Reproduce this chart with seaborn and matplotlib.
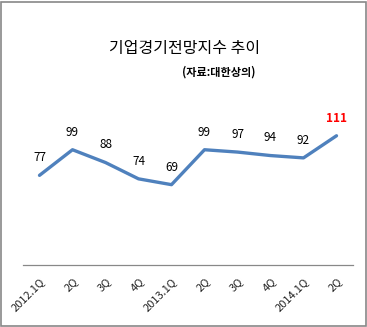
import matplotlib
matplotlib.use("Agg")
import matplotlib.pyplot as plt
from matplotlib.patches import Rectangle
from matplotlib.transforms import ScaledTranslation
import seaborn as sns
import pandas as pd

quarters = ["2012.1Q", "2Q", "3Q", "4Q", "2013.1Q", "2Q", "3Q", "4Q", "2014.1Q", "2Q"]
bsi = [77, 99, 88, 74, 69, 99, 97, 94, 92, 111]

sns.set_style("white")
plt.rcParams["font.family"] = ["Noto Sans CJK KR", "DejaVu Sans"]

df = pd.DataFrame({"pos": range(len(quarters)), "bsi": bsi})

fig = plt.figure(figsize=(3.67, 3.27), dpi=100)
ax = fig.add_axes([23 / 367, 1 - 265 / 327, 330 / 367, 163 / 327])

sns.lineplot(data=df, x="pos", y="bsi", ax=ax, color="#4F81BD", linewidth=2.4)

ax.set_xlim(-0.5, len(quarters) - 0.5)
ax.set_ylim(0, 140)
ax.set_xticks(range(len(quarters)))
ax.set_xticklabels(quarters, rotation=45, ha="right", rotation_mode="anchor",
                   fontsize=8, color="#222222")
shift = ScaledTranslation(6 / 100, 0, fig.dpi_scale_trans)
for lbl in ax.get_xticklabels():
    lbl.set_transform(lbl.get_transform() + shift)
ax.set_yticks([])
ax.set_xlabel("")
ax.set_ylabel("")
ax.tick_params(axis="x", length=0, pad=8)
for side in ["top", "left", "right"]:
    ax.spines[side].set_visible(False)
ax.spines["bottom"].set_color("#888888")
ax.spines["bottom"].set_linewidth(0.9)

# value labels above each point; the latest quarter highlighted
for i, v in enumerate(bsi):
    last = i == len(bsi) - 1
    ax.annotate(str(v), (i, v), xytext=(0, 8), textcoords="offset points",
                ha="center", va="bottom", fontsize=8.5,
                color="red" if last else "black",
                fontweight="bold" if last else "normal")

fig.text(185 / 367, 1 - 48 / 327, "기업경기전망지수 추이", ha="center", va="center",
         fontsize=11.5, color="black")
fig.text(219 / 367, 1 - 72 / 327, "(자료:대한상의)", ha="center", va="center",
         fontsize=8, fontweight="bold", color="black")

fig.patches.append(Rectangle((1.5 / 367, 1.5 / 327), 364 / 367, 323.5 / 327,
                             transform=fig.transFigure, fill=False,
                             edgecolor="#888888", linewidth=1.2))

fig.savefig("out.png", dpi=100)
